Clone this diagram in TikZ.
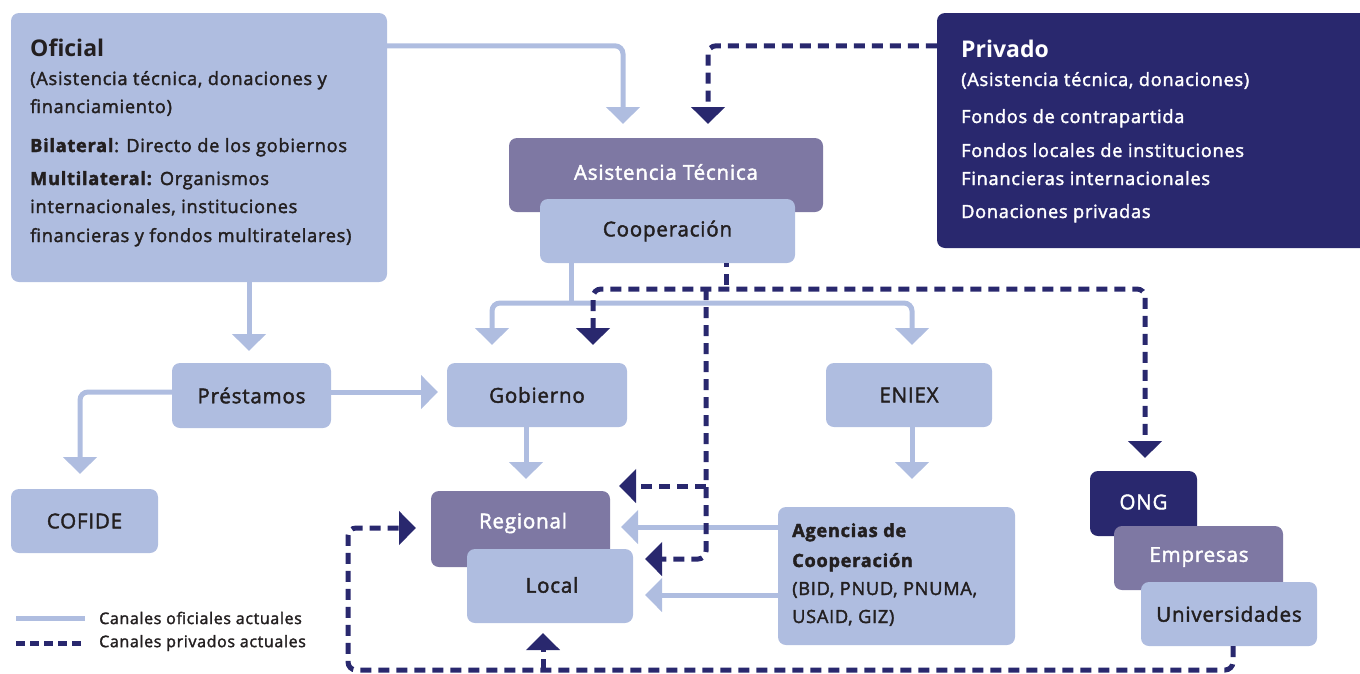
\documentclass[tikz,border=0pt]{standalone}
\usepackage{fontspec}
\setmainfont{Open Sans}
\newfontfamily\semi{Open Sans}[LetterSpace=4, FakeBold=2]
\usetikzlibrary{arrows.meta,calc}
\definecolor{lbox}{RGB}{175,189,224}
\definecolor{pbox}{RGB}{126,120,163}
\definecolor{nbox}{RGB}{41,40,110}
\definecolor{txt}{RGB}{35,31,32}
\begin{document}
\begin{tikzpicture}[x=1pt,y=-1pt,
  >={Triangle[width=33pt,length=17pt]},
  box/.style={rounded corners=8pt, inner sep=0pt, anchor=center},
  lb/.style={box, fill=lbox, text=txt},
  pb/.style={box, fill=pbox, text=white},
  nb/.style={box, fill=nbox, text=white},
  lbl/.style={font=\fontsize{20.5}{24}\selectfont\semi},
  body/.style={anchor=base west, inner sep=0pt, font=\fontsize{18.2}{20}\selectfont\semi},
  ttl/.style={anchor=base west, inner sep=0pt, font=\fontsize{23}{26}\selectfont\bfseries},
  off/.style={draw=lbox, line width=5pt, rounded corners=8pt},
  priv/.style={draw=nbox, line width=5pt, dash pattern=on 11pt off 7pt, rounded corners=8pt},
  leg/.style={anchor=west, inner sep=0pt, font=\fontsize{16}{18}\selectfont\semi, text=txt}
]
\useasboundingbox (0,0) rectangle (1360,673);

% boxes
\node[lb, minimum width=376pt, minimum height=269pt] (oficial) at (199,147.5) {};
\node[nb, minimum width=440pt, minimum height=235pt] (privado) at (1157,130.5) {};
\node[pb, lbl, minimum width=314pt, minimum height=74pt] (asist) at (666,175) {};
\node[text=white, lbl, inner sep=0pt] (asistT) at (666,172) {Asistencia Técnica};
\node[lb, lbl, minimum width=255pt, minimum height=64pt] (coop) at (667.5,231) {Cooperación};
\node[lb, lbl, minimum width=159pt, minimum height=65pt] (prest) at (251.5,395.5) {Préstamos};
\node[lb, lbl, minimum width=180pt, minimum height=64pt] (gob) at (537,395) {Gobierno};
\node[lb, lbl, minimum width=166pt, minimum height=64pt] (eniex) at (909,395) {ENIEX};
\node[lb, lbl, minimum width=147pt, minimum height=64pt] (cofide) at (84.5,521) {COFIDE};
\node[pb, minimum width=179pt, minimum height=76pt] (regional) at (520.5,529) {};
\node[text=white, lbl, inner sep=0pt] (regT) at (523,523) {Regional};
\node[lb, minimum width=166pt, minimum height=74pt] (local) at (550,586) {};
\node[text=txt, lbl, inner sep=0pt] (locT) at (552,585) {Local};
\node[lb, minimum width=237pt, minimum height=138pt] (agen) at (896.5,576) {};
\node[nb, minimum width=107pt, minimum height=65pt] (ong) at (1143.5,503.5) {};
\node[text=white, lbl, inner sep=0pt] (ongT) at (1143.5,502) {ONG};
\node[pb, minimum width=169pt, minimum height=64pt] (empr) at (1198.5,558) {};
\node[text=white, lbl, inner sep=0pt] (emprT) at (1199,557) {Empresas};
\node[lb, lbl, minimum width=176pt, minimum height=64pt] (univ) at (1229,614) {Universidades};

% box texts
\node[ttl, text=txt] (o1) at (30,56) {Oficial};
\node[body, text=txt] (o2) at (30,85) {(Asistencia técnica, donaciones y};
\node[body, text=txt] (o3) at (30,113) {financiamiento)};
\node[body, text=txt] (o4) at (30,152) {\textbf{Bilateral}: Directo de los gobiernos};
\node[body, text=txt] (o5) at (30,185) {\textbf{Multilateral:} Organismos};
\node[body, text=txt] (o6) at (30,213) {internacionales, instituciones};
\node[body, text=txt] (o7) at (30,242) {financieras y fondos multiratelares)};

\node[ttl, text=white] (p1) at (961,57) {Privado};
\node[body, text=white] (p2) at (961,86) {(Asistencia técnica, donaciones)};
\node[body, text=white] (p3) at (961,123) {Fondos de contrapartida};
\node[body, text=white] (p4) at (961,157) {Fondos locales de instituciones};
\node[body, text=white] (p5) at (961,185) {Financieras internacionales};
\node[body, text=white] (p6) at (961,218) {Donaciones privadas};

\node[body, text=txt] (a1) at (792,537) {\textbf{Agencias de}};
\node[body, text=txt] (a2) at (792,567) {\textbf{Cooperación}};
\node[body, text=txt] (a3) at (792,595) {(BID, PNUD, PNUMA,};
\node[body, text=txt] (a4) at (792,623) {USAID, GIZ)};

% coordinates for arrow tips and junctions
\coordinate (tAsOff) at (623,124);
\coordinate (tAsPriv) at (708,124);
\coordinate (jCoop) at (571,303);
\coordinate (tGob1) at (492,345);
\coordinate (tEni1) at (912,345);
\coordinate (jPriv) at (726,289);
\coordinate (tGob2) at (593,345);
\coordinate (tOng) at (1145,458);
\coordinate (jV) at (706,289);
\coordinate (jV2) at (706,486);
\coordinate (tReg2) at (619,486);
\coordinate (tLoc2) at (645,559);
\coordinate (tPrest) at (249,351);
\coordinate (tGob3) at (438,392);
\coordinate (tCof) at (80,474);
\coordinate (tReg1) at (526,479);
\coordinate (tAgen) at (912,479);
\coordinate (tReg3) at (621,527);
\coordinate (tLoc3) at (645,595);
\coordinate (jBot) at (348,670);
\coordinate (tReg4) at (416,528);
\coordinate (jBot2) at (543,670);
\coordinate (tLoc4) at (543,633);
\coordinate (xUniv) at (1233,0);

% official connectors
\draw[off, ->] ([yshift=-33pt]oficial.north east) -| (tAsOff);
\draw[off] (coop.south -| jCoop) -- (jCoop);
\draw[off, <->] (tGob1) |- (jCoop) -| (tEni1);
\draw[off, ->] (oficial.south -| tPrest) -- (tPrest);
\draw[off, ->] (prest.east |- tGob3) -- (tGob3);
\draw[off, ->] (prest.west |- tGob3) -| (tCof);
\draw[off, ->] (gob.south -| tReg1) -- (tReg1);
\draw[off, ->] (eniex.south -| tAgen) -- (tAgen);
\draw[off, ->] (agen.west |- tReg3) -- (tReg3);
\draw[off, ->] (agen.west |- tLoc3) -- (tLoc3);

% private connectors
\draw[priv, ->] ([yshift=-33pt]privado.north west) -| (tAsPriv);
\draw[priv, dash phase=7pt] (coop.south -| jPriv) -- (jPriv);
\draw[priv, <->] (tGob2) |- (jPriv) -| (tOng);
\draw[priv, ->] (jV) |- (tLoc2);
\draw[priv, ->] (jV2) -- (tReg2);
\draw[priv, ->] (univ.south -| xUniv) |- (jBot) |- (tReg4);
\draw[priv, ->] (jBot2) -- (tLoc4);

% legend
\coordinate (l1a) at (16,618);
\coordinate (l1b) at (85,618);
\coordinate (l2a) at (16,643);
\coordinate (l2b) at (85,643);
\draw[draw=lbox, line width=5pt] (l1a) -- (l1b);
\draw[draw=nbox, line width=5pt, dash pattern=on 9pt off 5pt] (l2a) -- (l2b);
\node[leg] (leg1) at (99,618) {Canales oficiales actuales};
\node[leg] (leg2) at (99,643) {Canales privados actuales};
\end{tikzpicture}
\end{document}
